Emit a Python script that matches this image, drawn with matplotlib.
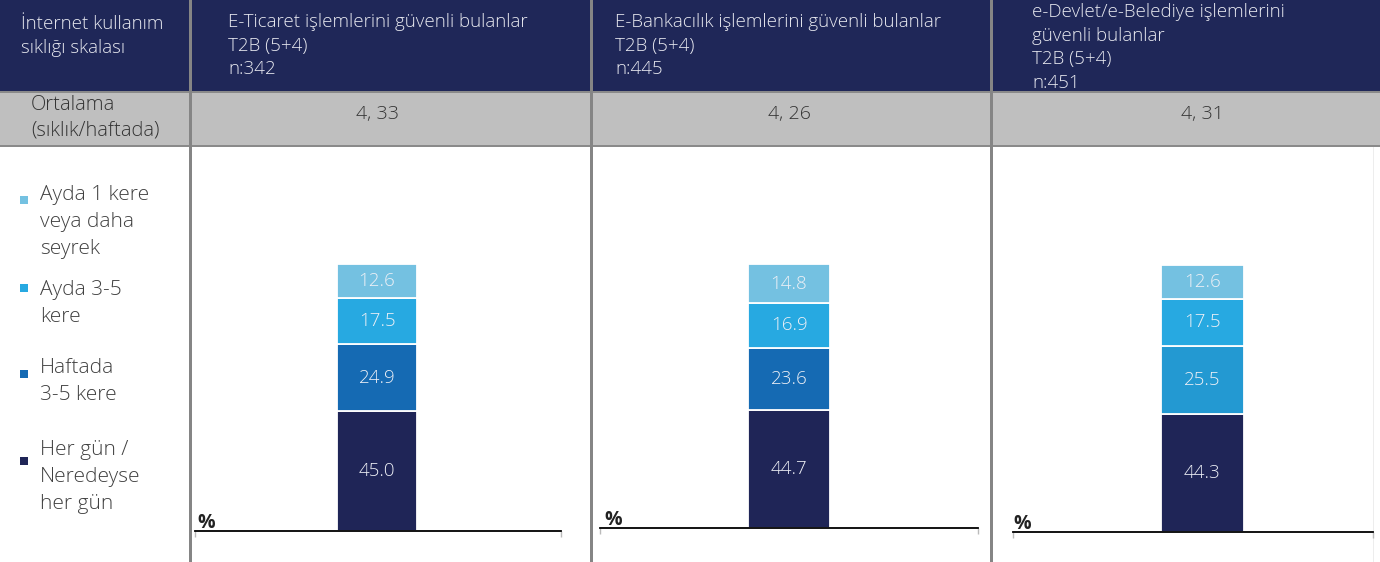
import matplotlib
matplotlib.use("Agg")
import matplotlib.pyplot as plt
from matplotlib.patches import Rectangle

plt.rcParams['font.family'] = ['Open Sans', 'DejaVu Sans']

W, H = 1380, 562

# --- veriler ---
categories = ["Her gün /\nNeredeyse\nher gün", "Haftada\n3-5 kere",
              "Ayda 3-5\nkere", "Ayda 1 kere\nveya daha\nseyrek"]
first_col_header = "İnternet kullanım\nsıklığı skalası"
avg_label = "Ortalama\n(sıklık/haftada)"
panel_titles = ["E-Ticaret işlemlerini güvenli bulanlar\nT2B (5+4)\nn:342",
                "E-Bankacılık işlemlerini güvenli bulanlar\nT2B (5+4)\nn:445",
                "e-Devlet/e-Belediye işlemlerini\ngüvenli bulanlar\nT2B (5+4)\nn:451"]
averages = ["4, 33", "4, 26", "4, 31"]
eticaret = [45.0, 24.9, 17.5, 12.6]
ebankacilik = [44.7, 23.6, 16.9, 14.8]
edevlet = [44.3, 25.5, 17.5, 12.6]
series = [eticaret, ebankacilik, edevlet]

# renkler (alttan üste)
seg_colors = ['#1F2557', '#156AB3', '#27A9E1', '#74C1E1']
panel_colors = [seg_colors, seg_colors, ['#1F2557', '#2399D2', '#27A9E1', '#74C1E1']]

NAVY = '#1F2758'
GRAY_ROW = '#BFBFBF'
LINE_GRAY = '#858585'

# panel yerleşimi (piksel): eksen sol, sağ, taban y, 100% yüksekliği, bar merkezi, bar genişliği
layout = [
    dict(l=195, r=561, y=531, h=267, c=377, bw=80, tx=228, ty=27, px=197),
    dict(l=600, r=978, y=528, h=264, c=789, bw=82, tx=615, ty=27, px=604),
    dict(l=1013, r=1373, y=532, h=267, c=1202.5, bw=83, tx=1032, ty=17, px=1013),
]

fig = plt.figure(figsize=(W / 100, H / 100), dpi=100)
bg = fig.add_axes([0, 0, 1, 1], zorder=0)
bg.set_xlim(0, W)
bg.set_ylim(H, 0)
bg.axis('off')


def lines(x, y0, text, step, **kw):
    for i, s in enumerate(text.split('\n')):
        bg.text(x, y0 + i * step, s, va='baseline', fontweight='light', **kw)


# tablo arka planı
bg.add_patch(Rectangle((0, 0), W, 91, color=NAVY, lw=0))
bg.add_patch(Rectangle((0, 91), W, 2, color='#8A8A8A', lw=0))
bg.add_patch(Rectangle((0, 93), W, 52, color=GRAY_ROW, lw=0))
bg.add_patch(Rectangle((0, 145), W, 2, color='#8A8A8A', lw=0))
bg.add_patch(Rectangle((1373, 147), 1, H - 147, color='#EDEDED', lw=0))
for sx in [189, 590, 990]:
    bg.add_patch(Rectangle((sx, 0), 3, H, color=LINE_GRAY, lw=0))

# başlık metinleri
lines(21, 29, first_col_header, 24, color='#E8E9F0', fontsize=13.5)
lines(31, 110, avg_label, 26, color='#333333', fontsize=14.5)

# lejant
legend_pos = [(461, 455), (374, 373), (288, 295), (200, 200)]  # (kare merkezi, ilk satır tabanı)
for cat, col, (my, ty) in zip(categories, seg_colors, legend_pos):
    bg.add_patch(Rectangle((20, my - 4), 8, 8, color=col, lw=0))
    lines(40, ty, cat, 27, color='#404040', fontsize=15)

for vals, cols, title, avg, L in zip(series, panel_colors, panel_titles, averages, layout):
    lines(L['tx'], L['ty'], title, 23.7, color='#E8E9F0', fontsize=13.5)
    bg.text(L['c'], 119, avg, ha='center', va='baseline', color='#333333',
            fontsize=14, fontweight='light')
    bg.text(L['px'], L['y'] - 3, '%', ha='left', va='baseline', color='#222222',
            fontsize=14, fontweight='bold')

    ax = fig.add_axes([L['l'] / W, (H - L['y']) / H, (L['r'] - L['l']) / W, L['h'] / H], zorder=1)
    ax.set_facecolor('none')
    x0 = (L['l'] - L['c']) / L['bw']
    x1 = (L['r'] - L['c']) / L['bw']
    ax.set_xlim(x0, x1)
    ax.set_ylim(0, 100)

    bottom = 0
    for v, col in zip(vals, cols):
        ax.bar(0, v, width=1, bottom=bottom, color=col, edgecolor='white', linewidth=1.3)
        ax.text(0, bottom + v / 2, f"{v:.1f}", ha='center', va='center',
                color='#EEF0F6', fontsize=13.5, fontweight='light')
        bottom += v

    for side in ['top', 'left', 'right']:
        ax.spines[side].set_visible(False)
    ax.spines['bottom'].set_color('black')
    ax.spines['bottom'].set_linewidth(1.3)
    ax.set_yticks([])
    ax.set_xticks([x0, x1])
    ax.set_xticklabels([])
    ax.tick_params(axis='x', length=4, width=1, color='#BBBBBB', direction='out')

fig.savefig('out.png', dpi=100)
